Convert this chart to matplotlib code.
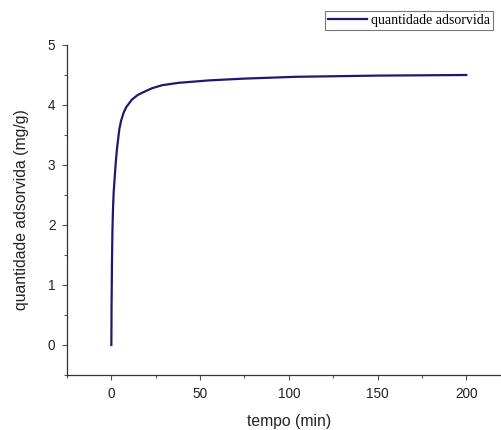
import numpy as np
import matplotlib
matplotlib.use("Agg")
import matplotlib.pyplot as plt
from matplotlib.ticker import MultipleLocator

# valores
tempo = [0, 0.1, 0.35, 0.6, 0.9, 1.3, 1.9, 2.5, 3.2, 4.5, 5.5, 7, 8.5, 11.6, 15, 19.2, 23,
         28.6, 38, 55, 75, 104, 150, 200]
qt = [0, 0.6, 1.4, 1.9, 2.25, 2.55, 2.8, 3.05, 3.28, 3.6, 3.74, 3.88, 3.97, 4.09, 4.17, 4.23,
      4.28, 4.33, 4.37, 4.41, 4.44, 4.47, 4.49, 4.5]

plt.rcParams['font.family'] = ['Liberation Sans', 'DejaVu Sans']

fig = plt.figure(figsize=(5.02, 4.30), dpi=100)
ax = fig.add_axes([67 / 502, 1 - 375 / 430, 433 / 502, 330 / 430])

line, = ax.plot(tempo, qt, color='#1c1a6e', lw=1.6, label='quantidade adsorvida')

ax.set_xlim(-25, 219)
ax.set_ylim(-0.5, 5)
ax.xaxis.set_major_locator(MultipleLocator(50))
ax.xaxis.set_minor_locator(MultipleLocator(25))
ax.yaxis.set_major_locator(MultipleLocator(1))
ax.yaxis.set_minor_locator(MultipleLocator(0.5))

for s in ['top', 'right']:
    ax.spines[s].set_visible(False)
for s in ['left', 'bottom']:
    ax.spines[s].set_color('#333333')
    ax.spines[s].set_linewidth(0.9)

ax.tick_params(which='major', direction='out', length=3.8, width=0.8, color='#555555',
               labelsize=9.8, labelcolor='#222222', pad=4.5)
ax.tick_params(which='minor', direction='out', length=2.3, width=0.8, color='#555555')

ax.set_xlabel('tempo (min)', fontsize=11.3, color='#222222', va='center')
ax.xaxis.set_label_coords(0.514, -0.142)
ax.set_ylabel('quantidade adsorvida (mg/g)', fontsize=11.3, color='#222222', va='center')
ax.yaxis.set_label_coords(-0.104, 0.5)

leg = fig.legend(handles=[line], loc='upper right', bbox_to_anchor=(493 / 502, 1 - 11 / 430),
                 prop={'family': 'Liberation Serif', 'size': 10}, fancybox=False,
                 frameon=True, borderpad=0.2, handlelength=2.8, handletextpad=0.3,
                 borderaxespad=0)
leg.get_frame().set_edgecolor('#555555')
leg.get_frame().set_linewidth(0.8)

fig.savefig('out.png', dpi=100)
